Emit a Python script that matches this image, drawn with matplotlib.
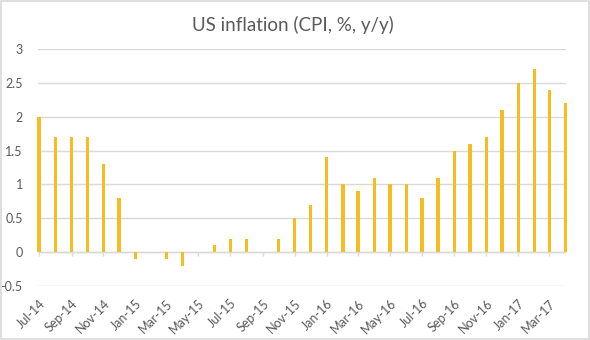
import matplotlib.pyplot as plt
import matplotlib.dates as mdates
import numpy as np
import pandas as pd

# dati: inflazione USA mensile (CPI, % a/a)
months = pd.date_range("2014-07-01", "2017-04-01", freq="MS")
cpi = [2.0, 1.7, 1.7, 1.7, 1.3, 0.8, -0.1, 0.0, -0.1, -0.2, 0.0, 0.1,
       0.2, 0.2, 0.0, 0.2, 0.5, 0.7, 1.4, 1.0, 0.9, 1.1, 1.0, 1.0,
       0.8, 1.1, 1.5, 1.6, 1.7, 2.1, 2.5, 2.7, 2.4, 2.2]
tick_months = months[::2]
yticks = [-0.5, 0, 0.5, 1, 1.5, 2, 2.5, 3]
title = "US inflation (CPI, %, y/y)"

plt.rcParams['font.family'] = ['Lato', 'DejaVu Sans']
grey = '#595959'

fig = plt.figure(figsize=(5.9, 3.4), dpi=100)
ax = fig.add_axes([38 / 590, 1 - 286 / 340, 528 / 590, 237 / 340])

# bordo del grafico
fig.patches.append(plt.Rectangle((0.002, 0.003), 0.996, 0.994, transform=fig.transFigure,
                                 fill=False, edgecolor='#D9D9D9', lw=1.2))

bars = ax.bar(months, cpi, width=6.5, color='#F5BD1F', zorder=3)
for b in bars:
    b.set_clip_on(False)

ax.set_ylim(-0.5, 3)
ax.set_yticks(yticks)
ax.set_yticklabels([f"{v:g}" for v in yticks])
ax.set_xlim(months[0] - pd.Timedelta(days=2), months[-1] + pd.Timedelta(days=1))
ax.set_xticks(tick_months)
ax.set_xticklabels([d.strftime("%b-%y") for d in tick_months], rotation=45,
                   ha='right', va='top', rotation_mode='anchor')

ax.grid(axis='y', color='#D9D9D9', lw=1, zorder=0)
ax.axhline(0, color='#D9D9D9', lw=1, zorder=1)
ax.vlines(tick_months, -0.06, 0, color='#D9D9D9', lw=1, zorder=1)
for s in ax.spines.values():
    s.set_visible(False)
ax.tick_params(axis='both', length=0, colors=grey, labelsize=9)
ax.tick_params(axis='y', pad=11)
ax.tick_params(axis='x', pad=8)

fig.text(293 / 590, 1 - 25 / 340, title, ha='center', va='center', fontsize=13.5, color=grey)

fig.savefig('out.png', dpi=100)
